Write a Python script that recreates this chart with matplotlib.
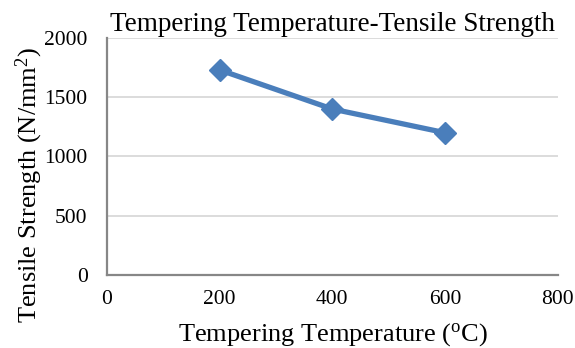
import matplotlib
matplotlib.use('Agg')
import matplotlib.pyplot as plt

# tempering temperature (C) vs tensile strength (N/mm2)
temperature = [200, 400, 600]
strength = [1730, 1400, 1200]

x_ticks = [0, 200, 400, 600, 800]
y_ticks = [0, 500, 1000, 1500, 2000]

plt.rcParams['font.family'] = 'Liberation Serif'
plt.rcParams['mathtext.fontset'] = 'custom'
plt.rcParams['mathtext.rm'] = 'Liberation Serif'
plt.rcParams['mathtext.it'] = 'Liberation Serif:italic'


def dibujar_grafico(output_path: str):
    fig = plt.figure(figsize=(5.75, 3.48), dpi=100)
    ax = fig.add_axes([0.186, 0.21, 0.784, 0.681])

    ax.plot(temperature, strength, color='#4a7ebb', linewidth=3.8,
            marker='D', markersize=11, solid_joinstyle='round', zorder=3)

    ax.set_xlim(0, 800)
    ax.set_ylim(0, 2000)
    ax.set_xticks(x_ticks)
    ax.set_yticks(y_ticks)
    ax.tick_params(length=0, labelsize=15.5)
    ax.tick_params(axis='x', pad=11)
    ax.tick_params(axis='y', pad=14)

    ax.grid(axis='y', color='#d9d9d9', linewidth=1.3)
    ax.set_axisbelow(True)
    for side in ['top', 'right']:
        ax.spines[side].set_visible(False)
    for side in ['left', 'bottom']:
        ax.spines[side].set_color('#878787')
        ax.spines[side].set_linewidth(1.6)

    ax.set_title('Tempering Temperature-Tensile Strength', fontsize=19.5, pad=5)
    ax.set_xlabel(r'Tempering Temperature ($\mathrm{^{o}}$C)', fontsize=19, labelpad=8.5)
    ax.set_ylabel(r'Tensile Strength (N/mm$\mathrm{^{2}}$)', fontsize=19)
    ax.yaxis.set_label_coords(-0.138, 0.38)

    fig.savefig(output_path, dpi=100)


if __name__ == "__main__":
    dibujar_grafico('out.png')
